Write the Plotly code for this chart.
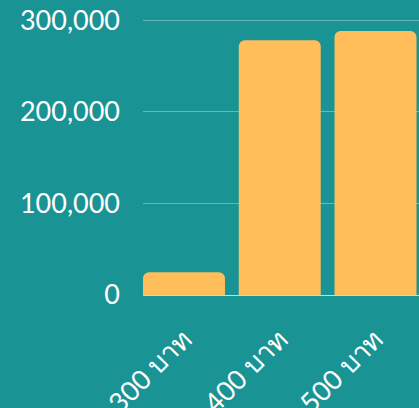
import plotly.graph_objects as go

categories = ["300 บาท", "400 บาท", "500 บาท"]
values = [24700, 278000, 288000]
y_ticks = [0, 100000, 200000, 300000]
y_tick_labels = ["0", "100,000", "200,000", "300,000"]

BG = "#199393"
BAR = "#FFBE5A"
FONT = "Lato, 'Noto Sans', sans-serif"

fig = go.Figure(go.Bar(x=categories, y=values, marker=dict(color=BAR, line=dict(width=0))))
fig.update_layout(
    width=419, height=408,
    paper_bgcolor=BG, plot_bgcolor=BG,
    margin=dict(l=143, r=0, t=10, b=113, autoexpand=False),
    bargap=0.144,
    barcornerradius=6,
    showlegend=False,
    font=dict(family=FONT, color="white", size=26),
)
fig.update_xaxes(
    type="category", range=[-0.428, 2.454],
    tickangle=-45, showgrid=False, showline=False, ticks="",
    ticklabelstandoff=22, automargin=False,
    tickfont=dict(size=27, color="white", family=FONT),
)
fig.update_yaxes(
    range=[0, 311000], tickvals=y_ticks, ticktext=y_tick_labels,
    showgrid=True, gridcolor="rgba(255,255,255,0.35)", gridwidth=1,
    zeroline=True, zerolinecolor="rgba(255,255,255,0.7)", zerolinewidth=1,
    showline=False, ticks="", ticklabelstandoff=22, automargin=False,
    tickfont=dict(size=27, color="white", family=FONT),
)
fig.write_html("out.html", config={"displayModeBar": False},
               post_script="document.body.style.margin='0';")
